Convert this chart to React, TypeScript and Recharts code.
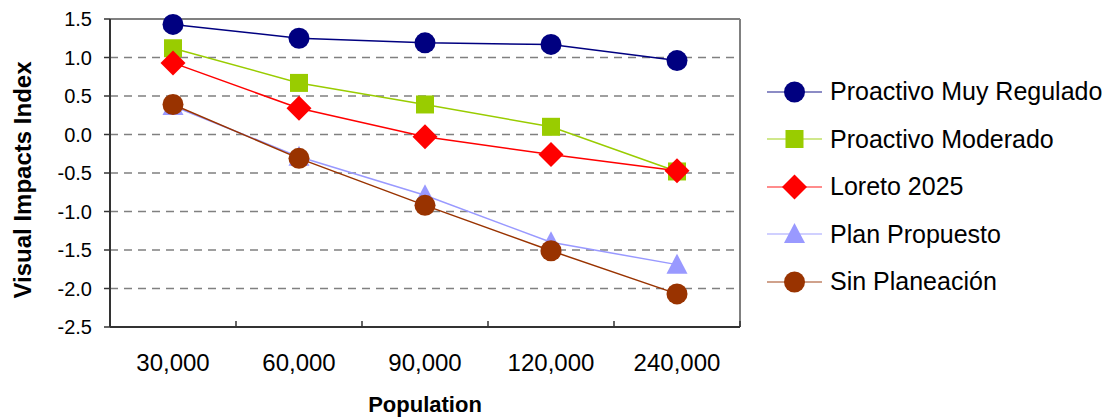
import React from "react"
import { LineChart, Line, XAxis, YAxis, CartesianGrid, ReferenceLine } from "recharts"

// population categories on the x axis
const populations = ["30,000", "60,000", "90,000", "120,000", "240,000"]

// visual impacts index per scenario
const muyRegulado = [1.43, 1.25, 1.19, 1.17, 0.96]
const moderado = [1.12, 0.67, 0.39, 0.1, -0.48]
const loreto2025 = [0.93, 0.34, -0.03, -0.26, -0.47]
const planPropuesto = [0.37, -0.29, -0.79, -1.4, -1.69]
const sinPlaneacion = [0.39, -0.31, -0.92, -1.51, -2.07]

const yTicks = [1.5, 1.0, 0.5, 0.0, -0.5, -1.0, -1.5, -2.0, -2.5]

const series = [
  { key: "muyRegulado", name: "Proactivo Muy Regulado", color: "#000080", shape: "circle" },
  { key: "moderado", name: "Proactivo Moderado", color: "#99CC00", shape: "square" },
  { key: "loreto2025", name: "Loreto 2025", color: "#FF0000", shape: "diamond" },
  { key: "planPropuesto", name: "Plan Propuesto", color: "#9999FF", shape: "triangle" },
  { key: "sinPlaneacion", name: "Sin Planeación", color: "#993300", shape: "circle" },
]

const data = populations.map((pop, i) => ({
  pop,
  muyRegulado: muyRegulado[i],
  moderado: moderado[i],
  loreto2025: loreto2025[i],
  planPropuesto: planPropuesto[i],
  sinPlaneacion: sinPlaneacion[i],
}))

const FONT = "'Liberation Sans', Arial, sans-serif"

function Marker({ cx, cy, shape, color }: { cx: number; cy: number; shape: string; color: string }) {
  if (cx == null || cy == null) return null
  if (shape === "square") return <rect x={cx - 9} y={cy - 9} width={18} height={18} fill={color} />
  if (shape === "diamond")
    return <polygon points={`${cx},${cy - 12.5} ${cx + 12.5},${cy} ${cx},${cy + 12.5} ${cx - 12.5},${cy}`} fill={color} />
  if (shape === "triangle")
    return <polygon points={`${cx},${cy - 11} ${cx + 10.5},${cy + 9} ${cx - 10.5},${cy + 9}`} fill={color} />
  return <circle cx={cx} cy={cy} r={10.5} fill={color} />
}

// Excel style ticks: marks on the category boundaries, labels in the middle
function PopTick(props: any) {
  const { x, y, payload, index } = props
  const half = payload && payload.offset ? payload.offset : 63
  return (
    <g>
      <line x1={x - half} y1={y - 8} x2={x - half} y2={y - 2} stroke="#333" strokeWidth={1.5} />
      {index === populations.length - 1 && (
        <line x1={x + half} y1={y - 8} x2={x + half} y2={y - 2} stroke="#333" strokeWidth={1.5} />
      )}
      <text x={x} y={y + 42} textAnchor="middle" fontSize={24} fontFamily={FONT} fill="#000">
        {payload.value}
      </text>
    </g>
  )
}

function YTitle(props: any) {
  const vb = props.viewBox || { x: 0, y: 19, height: 308 }
  const cx = 22
  const cy = vb.y + vb.height / 2 + 7
  return (
    <text
      x={cx}
      y={cy}
      transform={`rotate(-90 ${cx} ${cy})`}
      textAnchor="middle"
      dominantBaseline="central"
      fontFamily={FONT}
      fontSize={24}
      fontWeight="bold"
      fill="#000"
    >
      Visual Impacts Index
    </text>
  )
}

function LegendBox() {
  return (
    <div style={{ position: "absolute", left: 766, top: 68, fontFamily: FONT, fontSize: 25, color: "#000" }}>
      {series.map((s) => (
        <div key={s.key} style={{ display: "flex", alignItems: "center", height: 47.5 }}>
          <svg width={64} height={30} style={{ display: "block" }}>
            <line x1={1} y1={15} x2={56} y2={15} stroke={s.color} strokeWidth={1.5} opacity={0.6} />
            <Marker cx={28.5} cy={15} shape={s.shape} color={s.color} />
          </svg>
          <span style={{ whiteSpace: "nowrap" }}>{s.name}</span>
        </div>
      ))}
    </div>
  )
}

export default function App() {
  return (
    <div style={{ position: "absolute", left: 0, top: 0, width: 1115, height: 420, background: "#fff" }}>
      <LineChart width={1115} height={420} data={data} margin={{ top: 19, right: 375, bottom: 0, left: 0 }}>
        <CartesianGrid vertical={false} stroke="#808080" strokeWidth={1.3} strokeDasharray="8 6" />
        <ReferenceLine y={1.5} stroke="#808080" strokeWidth={2} />
        <ReferenceLine x={populations[populations.length - 1]} position="end" stroke="#808080" strokeWidth={2} />
        <XAxis
          dataKey="pop"
          scale="band"
          height={93}
          axisLine={{ stroke: "#333", strokeWidth: 2 }}
          tickLine={false}
          tickSize={0}
          tick={<PopTick />}
          interval={0}
          label={{
            value: "Population",
            position: "insideBottom",
            offset: 8,
            style: { fontFamily: FONT, fontSize: 22, fontWeight: "bold", fill: "#000" },
          }}
        />
        <YAxis
          domain={[-2.5, 1.5]}
          ticks={yTicks}
          width={110}
          interval={0}
          tickFormatter={(v: number) => v.toFixed(1)}
          axisLine={{ stroke: "#333", strokeWidth: 2 }}
          tickLine={{ stroke: "#333", strokeWidth: 1.5 }}
          tickSize={6}
          tickMargin={12}
          tick={{ fontSize: 20, fontFamily: FONT, fill: "#000" }}
          label={<YTitle />}
        />
        {series.map((s) => (
          <Line
            key={s.key}
            dataKey={s.key}
            name={s.name}
            stroke={s.color}
            strokeWidth={1.5}
            isAnimationActive={false}
            dot={(p: any) => <Marker key={`${s.key}-${p.index}`} cx={p.cx} cy={p.cy} shape={s.shape} color={s.color} />}
            activeDot={false}
          />
        ))}
      </LineChart>
      <LegendBox />
    </div>
  )
}
